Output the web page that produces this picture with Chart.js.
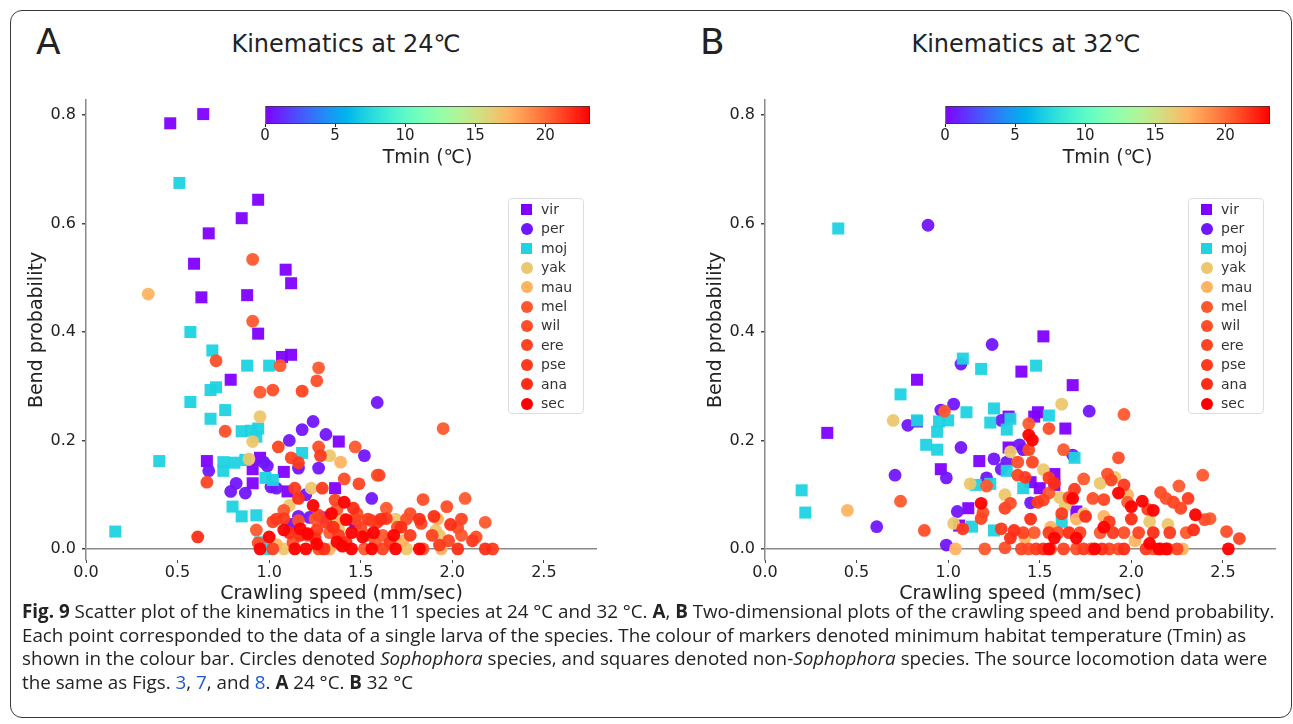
<!DOCTYPE html>
<html>
<head>
<meta charset="utf-8">
<script src="https://cdn.jsdelivr.net/npm/chart.js@4.4.0/dist/chart.umd.min.js"></script>
<style>
  html, body { margin: 0; padding: 0; background: #fff; }
  body { width: 1293px; height: 724px; position: relative; overflow: hidden; font-family: 'DejaVu Sans', sans-serif; color: #222; }
  .card { position: absolute; left: 10px; top: 10px; width: 1280px; height: 706px; border: 1px solid #3a3a3a; border-radius: 12px; }
  .letter { position: absolute; top: 24px; font-size: 36px; line-height: 1; }
  .title { position: absolute; top: 32px; font-size: 24px; line-height: 1; transform: translateX(-50%); white-space: nowrap; }
  canvas { position: absolute; }
  .legend { position: absolute; top: 198px; width: 76px; height: 216px; border: 1px solid #ddd; border-radius: 4px; background: rgba(255,255,255,0.8); box-sizing: border-box; padding-top: 1px; z-index: 2; }
  .legend .row { position: relative; height: 19.4px; font-size: 14px; line-height: 19.4px; }
  .legend .mk { position: absolute; left: 12px; top: 4px; width: 11px; height: 11px; }
  .legend .lbl { position: absolute; left: 32px; top: 0; color: #333; }
  .caption { position: absolute; left: 22px; top: 600px; font-family: 'Open Sans', sans-serif; font-size: 18.8px; line-height: 23.5px; white-space: nowrap; color: #222; }
  .caption a { color: #1d5bd0; text-decoration: none; }
</style>
</head>
<body>
<div class="card"></div>
<div class="letter" style="left:36px">A</div>
<div class="title" style="left:346px">Kinematics at 24℃</div>
<div class="letter" style="left:700px">B</div>
<div class="title" style="left:1026px">Kinematics at 32℃</div>

<canvas id="scatter24" width="610" height="525" style="left:0px;top:80px"></canvas>
<canvas id="scatter32" width="610" height="525" style="left:679px;top:80px"></canvas>
<canvas id="cbar24" width="345" height="80" style="left:255px;top:96px"></canvas>
<canvas id="cbar32" width="345" height="80" style="left:935px;top:96px"></canvas>
<div class="legend" id="legend24" style="left:508px"></div>
<div class="legend" id="legend32" style="left:1188px"></div>

<div class="caption"><b>Fig. 9</b> Scatter plot of the kinematics in the 11 species at 24 °C and 32 °C. <b>A</b>, <b>B</b> Two-dimensional plots of the crawling speed and bend probability.<br>Each point corresponded to the data of a single larva of the species. The colour of markers denoted minimum habitat temperature (Tmin) as<br>shown in the colour bar. Circles denoted <i>Sophophora</i> species, and squares denoted non-<i>Sophophora</i> species. The source locomotion data were<br>the same as Figs. <a>3</a>, <a>7</a>, and <a>8</a>. <b>A</b> 24 °C. <b>B</b> 32 °C</div>

<script>
// species, their minimum habitat temperature and marker shape
const speciesNames = ['vir', 'per', 'moj', 'yak', 'mau', 'mel', 'wil', 'ere', 'pse', 'ana', 'sec'];
const speciesTmin = [0, 0.6, 7.2, 16.6, 17.4, 20.6, 20.9, 21.2, 21.5, 21.9, 23.2];
const speciesShape = ['rect', 'circle', 'rect', 'circle', 'circle', 'circle', 'circle', 'circle', 'circle', 'circle', 'circle'];
const tminMax = 23.2;

const xTicks = [0, 0.5, 1, 1.5, 2, 2.5];
const yTicks = [0, 0.2, 0.4, 0.6, 0.8];
const cbarTicks = [0, 5, 10, 15, 20];

// [crawling speed (mm/sec), bend probability] per larva, 24 degrees
const vir24 = [[0.46,0.785],[0.64,0.802],[0.94,0.644],[0.85,0.61],[0.67,0.582],[0.59,0.526],[1.09,0.515],[1.12,0.49],[0.63,0.464],[0.88,0.468],[0.94,0.397],[1.07,0.354],[1.12,0.358],[0.79,0.312],[1.38,0.198],[0.66,0.162],[0.91,0.147],[0.95,0.168],[1.08,0.142],[0.91,0.121],[1.10,0.106],[1.36,0.112],[1.30,0.058],[1.47,0.048]];
const per24 = [[1.59,0.27],[1.11,0.20],[1.18,0.22],[1.24,0.235],[1.31,0.211],[1.52,0.172],[0.67,0.144],[0.99,0.153],[1.16,0.149],[1.27,0.149],[0.82,0.121],[0.79,0.106],[0.87,0.103],[1.01,0.114],[1.04,0.112],[1.20,0.10],[1.56,0.093],[1.16,0.06],[1.22,0.058],[0.97,0.16],[1.12,0.045]];
const moj24 = [[0.51,0.675],[0.57,0.40],[0.69,0.366],[0.88,0.338],[1.0,0.338],[0.68,0.293],[0.71,0.298],[0.57,0.271],[0.68,0.24],[0.76,0.256],[0.85,0.217],[0.90,0.218],[0.94,0.222],[0.93,0.207],[0.40,0.162],[0.75,0.16],[0.75,0.144],[0.81,0.159],[0.87,0.164],[1.18,0.177],[0.98,0.131],[1.02,0.127],[0.80,0.078],[0.85,0.06],[0.93,0.062],[0.16,0.032],[0.95,0.012],[1.0,0.0]];
const yak24 = [[0.95,0.244],[0.91,0.198],[0.89,0.166],[1.23,0.112],[1.11,0.08],[1.33,0.172],[1.36,0.052],[1.38,0.037],[1.91,0.034],[1.08,0.0],[1.75,0.0],[1.69,0.055],[1.93,0.025]];
const mau24 = [[0.34,0.47],[1.39,0.16],[1.33,0.0],[1.94,0.0],[1.92,0.055],[1.40,0.055],[1.73,0.015],[1.04,0.008]];
const mel24 = [[0.91,0.534],[0.91,0.42],[1.06,0.338],[1.27,0.334],[0.95,0.289],[1.47,0.188],[1.59,0.136],[1.95,0.222],[2.07,0.093],[1.64,0.075],[2.18,0.049],[1.37,0.073],[1.08,0.071],[0.93,0.035],[1.52,0.0],[1.62,0.025],[2.05,0.025],[1.25,0.055],[1.33,0.03],[1.58,0.012]];
const wil24 = [[0.71,0.347],[1.26,0.31],[1.02,0.293],[0.76,0.217],[1.27,0.188],[1.41,0.129],[1.84,0.091],[1.97,0.078],[1.77,0.065],[2.03,0.039],[1.48,0.065],[1.16,0.052],[0.94,0.011],[1.27,0.0],[1.84,0.0],[1.53,0.025],[1.75,0.055],[2.13,0.022],[1.13,0.012],[1.70,0.04]];
const ere24 = [[1.18,0.291],[1.05,0.188],[1.12,0.168],[1.49,0.12],[0.66,0.123],[1.60,0.136],[1.83,0.047],[1.98,0.015],[1.56,0.052],[1.27,0.062],[1.02,0.05],[1.02,0.0],[1.62,0.0],[1.89,0.025],[2.05,0.055],[1.21,0.025],[1.47,0.055],[1.36,0.09],[1.50,0.04]];
const pse24 = [[1.28,0.172],[1.16,0.159],[1.14,0.112],[1.29,0.112],[1.64,0.056],[2.11,0.015],[1.59,0.049],[1.31,0.049],[1.08,0.056],[2.22,0.0],[1.38,0.025],[1.77,0.025],[1.54,0.055],[1.04,0.055],[1.66,0.012],[1.93,0.007],[1.26,0.035]];
const ana24 = [[1.16,0.093],[0.61,0.022],[2.18,0.0],[1.11,0.03],[1.25,0.02],[1.35,0.04],[1.61,0.055],[1.82,0.055],[2.03,0.0],[1.17,0.025],[1.42,0.012],[1.72,0.04],[1.99,0.045],[1.30,0.0],[1.90,0.06],[1.46,0.075]];
const sec24 = [[1.41,0.086],[1.42,0.054],[1.0,0.022],[1.17,0.037],[1.21,0.028],[1.26,0.009],[1.37,0.013],[1.45,0.03],[1.51,0.022],[1.57,0.03],[0.95,0.0],[1.20,0.0],[1.45,0.0],[1.56,0.0],[1.69,0.0],[1.82,0.0],[1.08,0.035],[1.24,0.08],[1.68,0.025],[1.40,0.005],[1.14,0.0],[1.34,0.065]];

// same layout, 32 degrees
const vir32 = [[0.83,0.312],[0.34,0.214],[1.52,0.392],[1.40,0.327],[1.68,0.302],[1.33,0.244],[1.49,0.252],[1.47,0.244],[1.17,0.162],[1.33,0.187],[0.96,0.147],[1.11,0.075],[1.06,0.043],[1.64,0.222],[1.58,0.138],[1.45,0.123],[1.50,0.112],[1.58,0.118],[1.70,0.069],[0.83,0.235]];
const per32 = [[0.89,0.597],[1.24,0.377],[1.07,0.341],[1.03,0.267],[0.96,0.256],[0.78,0.228],[1.07,0.187],[1.25,0.166],[1.29,0.147],[1.32,0.16],[0.71,0.136],[0.99,0.131],[1.21,0.131],[0.61,0.041],[1.05,0.069],[0.99,0.007],[1.77,0.254],[1.39,0.192],[1.41,0.183],[1.68,0.173],[1.45,0.085],[1.29,0.237]];
const moj32 = [[0.40,0.591],[1.08,0.351],[1.18,0.332],[0.74,0.285],[1.10,0.252],[1.25,0.259],[0.83,0.237],[0.95,0.235],[1.0,0.237],[0.94,0.216],[1.23,0.233],[1.34,0.24],[1.32,0.22],[0.88,0.192],[0.94,0.183],[1.32,0.144],[1.15,0.118],[1.23,0.12],[0.20,0.108],[0.22,0.067],[1.13,0.041],[1.25,0.034],[1.55,0.246],[1.48,0.338],[1.69,0.168],[1.41,0.112],[1.62,0.05]];
const yak32 = [[0.70,0.237],[1.34,0.179],[1.31,0.10],[1.03,0.047],[1.62,0.267],[1.52,0.146],[1.61,0.095],[1.64,0.08],[1.83,0.121],[1.91,0.132],[1.74,0.065],[2.10,0.05],[2.20,0.045],[1.12,0.12]];
const mau32 = [[0.45,0.071],[1.85,0.06],[1.70,0.055],[2.02,0.015],[2.28,0.0],[1.42,0.02],[1.56,0.04],[1.98,0.1],[1.04,0.0]];
const mel32 = [[0.98,0.254],[1.21,0.116],[0.74,0.088],[1.96,0.248],[1.44,0.231],[1.63,0.183],[2.39,0.136],[1.74,0.129],[2.26,0.116],[1.55,0.103],[1.98,0.086],[2.43,0.056],[1.20,0.0],[1.56,0.0],[1.78,0.0],[2.12,0.0],[1.47,0.03],[1.83,0.03],[2.30,0.03]];
const wil32 = [[1.34,0.084],[1.19,0.067],[0.87,0.034],[1.55,0.222],[1.93,0.168],[1.38,0.16],[1.87,0.138],[2.16,0.104],[1.66,0.095],[1.79,0.093],[2.19,0.093],[2.40,0.054],[1.31,0.002],[1.44,0.0],[1.70,0.0],[1.93,0.0],[2.20,0.0],[1.60,0.03],[1.96,0.03],[2.52,0.032]];
const ere32 = [[1.31,0.075],[1.18,0.056],[1.44,0.183],[1.46,0.16],[1.38,0.136],[1.89,0.127],[1.52,0.09],[1.85,0.091],[2.23,0.086],[2.27,0.075],[1.40,0.0],[1.63,0.0],[1.88,0.0],[2.25,0.0],[1.41,0.03],[1.72,0.03],[2.04,0.03],[2.59,0.019]];
const pse32 = [[1.08,0.037],[1.29,0.037],[1.42,0.132],[1.55,0.131],[1.96,0.118],[1.69,0.11],[1.49,0.086],[2.31,0.093],[2.09,0.073],[1.48,0.0],[1.74,0.0],[2.08,0.0],[1.55,0.03],[1.90,0.03],[2.21,0.03],[1.62,0.065],[1.88,0.05]];
const ana32 = [[1.36,0.034],[1.58,0.121],[1.52,0.0],[1.84,0.0],[2.16,0.0],[1.66,0.03],[2.12,0.03],[2.34,0.035],[1.45,0.055],[1.75,0.06],[2.0,0.055],[1.34,0.02],[1.96,0.0]];
const sec32 = [[1.46,0.201],[1.68,0.093],[1.93,0.103],[2.06,0.088],[2.0,0.078],[2.12,0.071],[2.35,0.063],[1.18,0.084],[1.55,0.0],[1.80,0.0],[2.10,0.01],[2.15,0.0],[2.53,0.0],[1.58,0.02],[1.70,0.02],[1.85,0.04],[2.19,0.0],[1.44,0.21]];

const points24 = [vir24, per24, moj24, yak24, mau24, mel24, wil24, ere24, pse24, ana24, sec24];
const points32 = [vir32, per32, moj32, yak32, mau32, mel32, wil32, ere32, pse32, ana32, sec32];

Chart.defaults.font.family = "'DejaVu Sans', sans-serif";
Chart.defaults.color = '#222';

// matplotlib "rainbow" colormap, t in [0, 1]
function rainbow(t, alpha) {
    t = Math.max(0, Math.min(1, t));
    const r = Math.min(1, Math.abs(2 * t - 0.5));
    const g = Math.sin(Math.PI * t);
    const b = Math.cos(Math.PI * t / 2);
    return `rgba(${Math.round(r * 255)},${Math.round(g * 255)},${Math.round(b * 255)},${alpha})`;
}

function speciesColor(i, alpha) {
    return rainbow(speciesTmin[i] / tminMax, alpha);
}

function makeScatter(canvasId, pointSets) {
    const datasets = speciesNames.map((name, i) => ({
        label: name,
        data: pointSets[i].map(p => ({ x: p[0], y: p[1] })),
        pointStyle: speciesShape[i],
        pointRadius: speciesShape[i] === 'rect' ? 8.5 : 6.4,
        backgroundColor: speciesColor(i, 0.95),
        borderWidth: 0,
        order: speciesNames.length - i   // later species on top
    }));

    return new Chart(document.getElementById(canvasId), {
        type: 'scatter',
        data: { datasets: datasets },
        options: {
            responsive: false,
            animation: false,
            events: [],
            layout: { padding: { top: 20, right: 13, left: 0, bottom: 0 } },
            plugins: { legend: { display: false }, tooltip: { enabled: false } },
            scales: {
                x: {
                    type: 'linear',
                    min: 0,
                    max: 2.79,
                    afterBuildTicks: s => { s.ticks = xTicks.map(v => ({ value: v })); },
                    afterFit: s => { s.height = 45; },
                    border: { display: false },
                    grid: { display: true, drawOnChartArea: false, tickLength: 3, tickColor: '#444' },
                    ticks: { padding: 0, font: { size: 16 }, color: '#222', callback: v => v.toFixed(1) },
                    title: { display: true, text: 'Crawling speed (mm/sec)', font: { size: 19 }, color: '#222', padding: { top: 0, bottom: 0 } }
                },
                y: {
                    type: 'linear',
                    min: -0.0205,
                    max: 0.828,
                    afterBuildTicks: s => { s.ticks = yTicks.map(v => ({ value: v })); },
                    afterFit: s => { s.width = 86; },
                    border: { display: true, color: '#8a8a8a', width: 1.5 },
                    grid: {
                        color: c => (c.tick && c.tick.value === 0) ? '#8a8a8a' : 'rgba(0,0,0,0)',
                        lineWidth: 1.5,
                        tickLength: 4,
                        tickColor: '#444'
                    },
                    ticks: { padding: 6, font: { size: 16 }, color: '#222', callback: v => v.toFixed(1) },
                    title: { display: true, text: 'Bend probability', font: { size: 19 }, color: '#222', padding: { top: 26, bottom: 4 } }
                }
            }
        }
    });
}

// horizontal colour bar for Tmin
function makeColorbar(canvasId) {
    return new Chart(document.getElementById(canvasId), {
        type: 'bar',
        data: {
            labels: [''],
            datasets: [{
                data: [[0, tminMax]],
                backgroundColor: function (ctx) {
                    const area = ctx.chart.chartArea;
                    if (!area) return 'rgba(0,0,0,0)';
                    const grad = ctx.chart.ctx.createLinearGradient(area.left, 0, area.right, 0);
                    for (let k = 0; k <= 20; k++) grad.addColorStop(k / 20, rainbow(k / 20, 1));
                    return grad;
                },
                borderColor: '#333',
                borderWidth: 1,
                borderSkipped: false,
                barPercentage: 1,
                categoryPercentage: 1
            }]
        },
        options: {
            indexAxis: 'y',
            responsive: false,
            animation: false,
            events: [],
            layout: { padding: { top: 10, left: 10, right: 10, bottom: 0 } },
            plugins: { legend: { display: false }, tooltip: { enabled: false } },
            scales: {
                y: { display: false },
                x: {
                    type: 'linear',
                    min: 0,
                    max: tminMax,
                    afterBuildTicks: s => { s.ticks = cbarTicks.map(v => ({ value: v })); },
                    afterFit: s => { s.height = 52; },
                    border: { display: false },
                    grid: { display: true, drawOnChartArea: false, tickLength: 3, tickColor: '#222' },
                    ticks: { padding: 0, font: { size: 15 }, color: '#222', callback: v => String(v) },
                    title: { display: true, text: 'Tmin (℃)', font: { size: 19 }, color: '#222', padding: { top: 0, bottom: 6.6 } }
                }
            }
        }
    });
}

function fillLegend(elId) {
    const box = document.getElementById(elId);
    speciesNames.forEach((name, i) => {
        const row = document.createElement('div');
        row.className = 'row';
        const mk = document.createElement('span');
        mk.className = 'mk';
        mk.style.background = speciesColor(i, 1);
        if (speciesShape[i] === 'circle') {
            mk.style.borderRadius = '50%';
            mk.style.width = '12px';
            mk.style.height = '12px';
            mk.style.left = '11.5px';
            mk.style.top = '3.7px';
        }
        const lbl = document.createElement('span');
        lbl.className = 'lbl';
        lbl.textContent = name;
        row.appendChild(mk);
        row.appendChild(lbl);
        box.appendChild(row);
    });
}

makeScatter('scatter24', points24);
makeScatter('scatter32', points32);
makeColorbar('cbar24');
makeColorbar('cbar32');
fillLegend('legend24');
fillLegend('legend32');
</script>
</body>
</html>
